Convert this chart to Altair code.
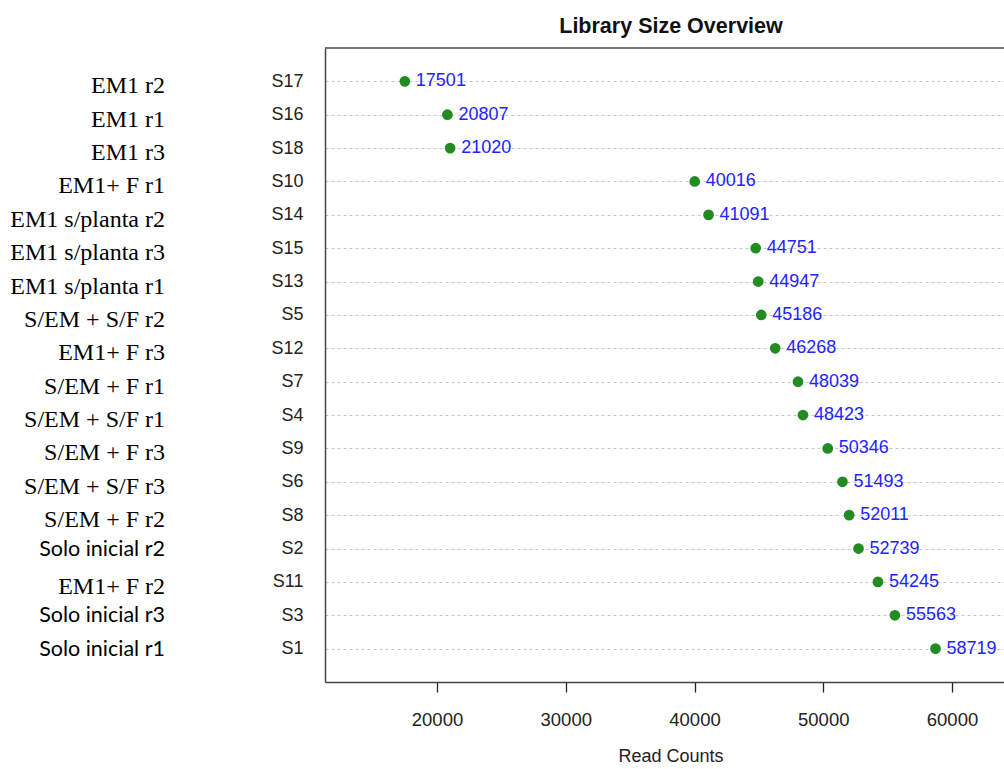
import altair as alt
import pandas as pd

# Library sizes per sample, in display order (top to bottom)
samples = ["S17", "S16", "S18", "S10", "S14", "S15", "S13", "S5", "S12",
           "S7", "S4", "S9", "S6", "S8", "S2", "S11", "S3", "S1"]
groups = ["EM1 r2", "EM1 r1", "EM1 r3", "EM1+ F r1", "EM1 s/planta r2",
          "EM1 s/planta r3", "EM1 s/planta r1", "S/EM + S/F r2", "EM1+ F r3",
          "S/EM + F r1", "S/EM + S/F r1", "S/EM + F r3", "S/EM + S/F r3",
          "S/EM + F r2", "Solo inicial r2", "EM1+ F r2", "Solo inicial r3",
          "Solo inicial r1"]
counts = [17501, 20807, 21020, 40016, 41091, 44751, 44947, 45186, 46268,
          48039, 48423, 50346, 51493, 52011, 52739, 54245, 55563, 58719]
x_ticks = [20000, 30000, 40000, 50000, 60000]

df = pd.DataFrame({
    "sample": samples,
    "group": groups,
    "count": counts,
    "sans": [g.startswith("Solo") for g in groups],
})

W, H = 679, 634
SANS = "Liberation Sans"

x = alt.X("count:Q",
          scale=alt.Scale(domain=[11300, 64038], nice=False, zero=False),
          axis=alt.Axis(values=x_ticks, title=None, grid=False, format="d",
                        tickSize=10, tickColor="#222", tickWidth=1.3,
                        domainColor="#444", domainWidth=1.5,
                        labelFont=SANS, labelFontSize=18.5, labelColor="#222",
                        labelPadding=18))
y = alt.Y("sample:N", sort=samples,
          scale=alt.Scale(type="point", padding=1),
          axis=alt.Axis(title=None, ticks=False, tickSize=0,
                        labelFont=SANS, labelFontSize=18, labelColor="#222",
                        labelPadding=22, domainColor="#444", domainWidth=1.5,
                        grid=True, gridColor="#c4c4c4", gridDash=[3, 3],
                        gridWidth=1))

base = alt.Chart(df)

dots = base.mark_point(filled=True, size=115, color="#228B22", opacity=1).encode(x=x, y=y)

values = base.mark_text(align="left", baseline="middle", dx=11, font=SANS,
                        fontSize=18, color="#2323ff").encode(
    x="count:Q", y=alt.Y("sample:N", sort=samples), text="count:Q")

serif_groups = base.transform_filter("!datum.sans").mark_text(
    align="right", baseline="middle", dy=5, font="Liberation Serif",
    fontSize=24, color="#000").encode(
    x=alt.value(165 - 325), y=alt.Y("sample:N", sort=samples), text="group:N")

sans_groups = base.transform_filter("datum.sans").mark_text(
    align="right", baseline="middle", dy=1, font="Lato",
    fontSize=21.5, color="#000").encode(
    x=alt.value(165 - 325), y=alt.Y("sample:N", sort=samples), text="group:N")

top_border = alt.Chart(pd.DataFrame({"a": [0]})).mark_rule(
    color="#444", strokeWidth=1.5).encode(
    x=alt.value(0), x2=alt.value(W + 5), y=alt.value(0))

title = alt.Chart(pd.DataFrame({"t": ["Library Size Overview"]})).mark_text(
    font=SANS, fontSize=21.5, fontWeight="bold", color="#111",
    align="center", baseline="middle").encode(
    x=alt.value(346), y=alt.value(-21), text="t:N")

xtitle = alt.Chart(pd.DataFrame({"t": ["Read Counts"]})).mark_text(
    font=SANS, fontSize=18, color="#222",
    align="center", baseline="middle").encode(
    x=alt.value(346), y=alt.value(H + 75), text="t:N")

chart = alt.layer(dots, values, serif_groups, sans_groups, top_border,
                  title, xtitle).properties(
    width=W, height=H,
    autosize=alt.AutoSizeParams(type="none"),
    padding={"left": 325, "top": 48, "right": 0, "bottom": 769 - 48 - H},
    background="white",
).configure_view(stroke=None)

chart.save("out.html", embed_options={"renderer": "svg", "actions": False})
